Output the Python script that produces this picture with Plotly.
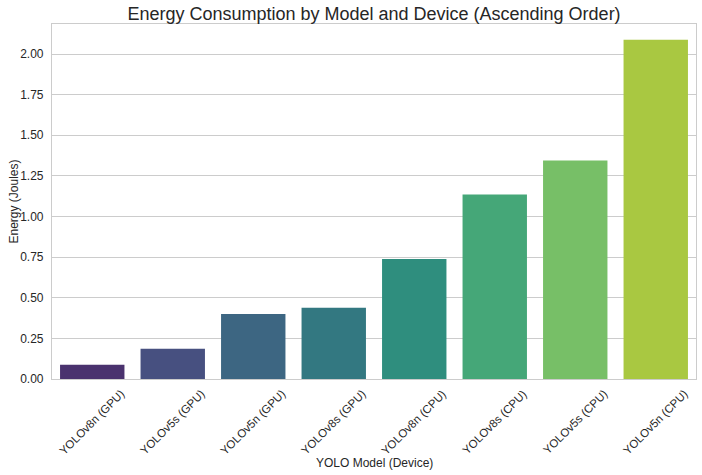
import colorsys
import plotly.graph_objects as go

models = ["YOLOv8n (GPU)", "YOLOv5s (GPU)", "YOLOv5n (GPU)", "YOLOv8s (GPU)",
          "YOLOv8n (CPU)", "YOLOv8s (CPU)", "YOLOv5s (CPU)", "YOLOv5n (CPU)"]
energy = [0.087, 0.186, 0.400, 0.438, 0.738, 1.135, 1.345, 2.088]
y_ticks = [0.0, 0.25, 0.5, 0.75, 1.0, 1.25, 1.5, 1.75, 2.0]
y_tick_labels = ["0.00", "0.25", "0.50", "0.75", "1.00", "1.25", "1.50", "1.75", "2.00"]

base = ['#482878', '#3e4989', '#31688e', '#26828e', '#1f9e89', '#35b779', '#6ece58', '#b5de2b']


def desat(hexc, prop=0.75):
    r, g, b = (int(hexc[i:i + 2], 16) / 255 for i in (1, 3, 5))
    h, l, s = colorsys.rgb_to_hls(r, g, b)
    r, g, b = colorsys.hls_to_rgb(h, l, s * prop)
    return "#%02x%02x%02x" % tuple(round(v * 255) for v in (r, g, b))


colors = [desat(c) for c in base]

W, H = 702, 475
ML, MR, MT, MB = 52, 6, 24, 96
plot_w = W - ML - MR
plot_h = H - MT - MB

font = "Liberation Sans, Arial, sans-serif"
fig = go.Figure(go.Bar(x=models, y=energy, marker=dict(color=colors, line_width=0)))

annotations = []
for m in models:
    annotations.append(dict(
        x=m, xref="x", y=0, yref="paper", yanchor="top", xanchor="center",
        yshift=-6, textangle=-45, showarrow=False, text=m,
        font=dict(size=11.5, color="#262626"),
    ))
annotations.append(dict(
    x=0.5, xref="paper", y=-(463 - (H - MB)) / plot_h, yref="paper",
    xanchor="center", yanchor="middle", showarrow=False,
    text="YOLO Model (Device)", font=dict(size=12, color="#262626"),
))
annotations.append(dict(
    x=-(ML - 13) / plot_w, xref="paper", y=0.5, yref="paper",
    xanchor="center", yanchor="middle", showarrow=False, textangle=-90,
    text="Energy (Joules)", font=dict(size=12, color="#262626"),
))

fig.update_layout(
    width=W, height=H,
    margin=dict(l=ML, r=MR, t=MT, b=MB),
    paper_bgcolor="white", plot_bgcolor="white",
    bargap=0.2, showlegend=False,
    font=dict(family=font, size=11, color="#262626"),
    title=dict(text="Energy Consumption by Model and Device (Ascending Order)",
               x=(ML + (W - MR)) / 2 / W, xanchor="center", y=1 - 14 / H, yanchor="middle",
               font=dict(size=18, color="#262626")),
    annotations=annotations,
)
fig.update_xaxes(
    showticklabels=False, showgrid=False, showline=True, mirror=True,
    linecolor="#cccccc", linewidth=1.2, ticks="", automargin=False,
)
fig.update_yaxes(
    range=[0, 2.185], tickvals=y_ticks, ticktext=y_tick_labels,
    showgrid=True, gridcolor="#cccccc", gridwidth=1,
    showline=True, mirror=True, linecolor="#cccccc", linewidth=1.2,
    ticks="", zeroline=False, automargin=False, ticklabelstandoff=5,
    tickfont=dict(size=12),
)
fig.write_html("out.html", config={"displayModeBar": False},
               post_script="document.body.style.margin='0';")
